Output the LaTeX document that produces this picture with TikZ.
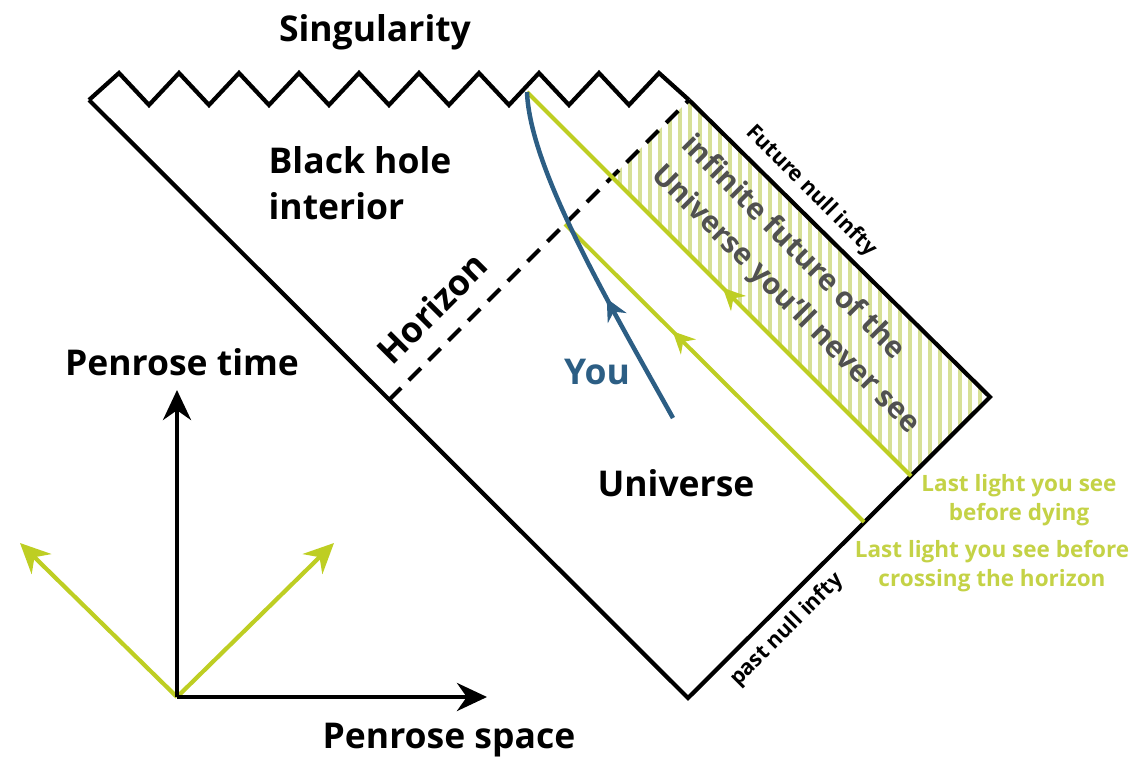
\documentclass[tikz,border=0pt]{standalone}
\usepackage{fontspec}
\setmainfont{Open Sans}
\usetikzlibrary{arrows.meta,decorations.markings}
\definecolor{lightgreen}{RGB}{190,206,35}
\definecolor{labelgreen}{RGB}{196,210,70}
\definecolor{hatchgreen}{RGB}{215,224,150}
\definecolor{youblue}{RGB}{44,94,132}
\definecolor{textgray}{RGB}{80,80,80}
\tikzset{
  bigtext/.style={font=\fontsize{35.5}{46}\selectfont\bfseries, inner sep=0pt},
  smalltext/.style={font=\fontsize{22.5}{29}\selectfont\bfseries, inner sep=0pt},
  edgetext/.style={font=\fontsize{21.5}{29}\selectfont\bfseries, inner sep=0pt},
  edge/.style={line width=4.2pt},
  midarrow/.style={postaction={decorate, decoration={markings,
      mark=at position #1 with {\arrow{Stealth[length=22pt,width=21pt]}}}}},
  lightray/.style={lightgreen, line width=4pt},
  axis/.style={line width=4.2pt, -{Stealth[length=30pt,width=28pt]}},
}
\begin{document}
\begin{tikzpicture}[x=1pt,y=-1pt]
\useasboundingbox (0,0) rectangle (1135,758);
% corners of the diagram
\coordinate (tl) at (89,100);
\coordinate (tr) at (689,100);
\coordinate (rc) at (990,397);
\coordinate (bc) at (688,698);
\coordinate (hl) at (389,400);
% worldline and light rays
\coordinate (you0) at (673,418);
\coordinate (you1) at (527,92);
\coordinate (cross) at (565,224);
\coordinate (hx) at (612,177);
\coordinate (ll1) at (911,476);
\coordinate (ll2) at (864,522);

% hatched region
\begin{scope}
  \clip (hx) -- (tr) -- (rc) -- (ll1) -- cycle;
  \foreach \x in {600,610,...,1000}
    \draw[hatchgreen, line width=4pt] (\x,90) -- (\x,490);
\end{scope}

\draw[edge] (tl) \foreach \i in {0,...,8} {-- ({119+60*\i},73) -- ({149+60*\i},105)}
  -- (659,73) -- (tr);
\draw[edge] (tl) -- (bc) -- (rc) -- (tr);
\draw[edge, dash pattern=on 17pt off 11pt] (hl) -- (tr);

\draw[lightray, midarrow=0.49] (ll1) -- (you1);
\draw[lightray, midarrow=0.64] (ll2) -- (cross);
\draw[youblue, line width=4.5pt, midarrow=0.38]
  (you0) .. controls (610,305) and (530,170) .. (you1);

% axes
\coordinate (o) at (177,697);
\coordinate (tup) at (177,390);
\coordinate (sright) at (487,697);
\coordinate (lleft) at (20,543);
\coordinate (lright) at (334,543);
\draw[axis, lightgreen] (o) -- (lleft);
\draw[axis, lightgreen] (o) -- (lright);
\draw[axis] (o) -- (tup);
\draw[axis] (o) -- (sright);

% labels
\node[bigtext] (sing) at (375,32) {Singularity};
\node[bigtext, align=left] (bh) at (360,183) {Black hole\\interior};
\node[bigtext, rotate=45] (hor) at (432,308) {Horizon};
\node[bigtext, youblue] (you) at (597,372) {You};
\node[bigtext] (univ) at (676,483) {Universe};
\node[textgray, rotate=-45, align=left, inner sep=0pt,
  font=\fontsize{29.5}{42}\selectfont\bfseries] (never) at (800,285)
  {infinite future of the\\Universe you'll never see};
\node[edgetext, rotate=-45] (fni) at (811,191) {Future null infty};
\node[edgetext, rotate=45] (pni) at (787,630) {past null infty};
\node[smalltext, labelgreen, align=center] (last1) at (1019,500)
  {Last light you see\\before dying};
\node[smalltext, labelgreen, align=center] (last2) at (992,566)
  {Last light you see before\\crossing the horizon};
\node[bigtext] (ptime) at (182,362) {Penrose time};
\node[bigtext] (pspace) at (449,740) {Penrose space};
\end{tikzpicture}
\end{document}
